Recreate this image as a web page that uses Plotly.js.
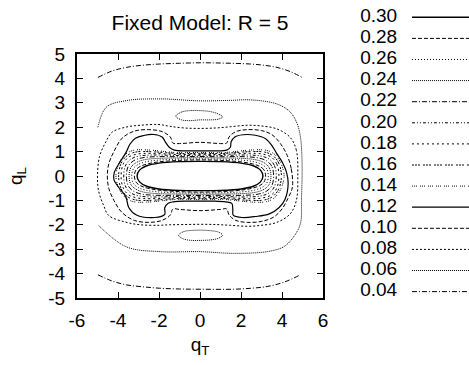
<!DOCTYPE html>
<html>
<head>
<meta charset="utf-8">
<script src="https://cdn.plot.ly/plotly-3.0.1.min.js"></script>
<style>html,body{margin:0;padding:0;background:#fff;}#chart{width:469px;height:365px;}</style>
</head>
<body>
<div id="chart"></div>
<script>
// ---- contour levels (legend order) ----
const levels = ['0.30','0.28','0.26','0.24','0.22','0.20','0.18','0.16','0.14','0.12','0.10','0.08','0.06','0.04'];
// tick labels
const xTickVals = [-6,-4,-2,0,2,4,6];
const xTickText = ['-6','-4','-2','0','2','4','6'];
const yTickVals = [-5,-4,-3,-2,-1,0,1,2,3,4,5];
const yTickText = ['-5','-4','-3','-2','-1','0','1','2','3','4','5'];

// ---- contour curves (qT, qL) ----
const c30x = [3.07,2.95,2.6,2.0,1.0,0,-1.0,-2.0,-2.6,-2.95,-3.07,-2.95,-2.6,-2.0,-1.0,0,1.0,2.0,2.6,2.95,3.07];
const c30y = [0,0.24,0.42,0.53,0.59,0.6,0.59,0.53,0.42,0.24,0,-0.24,-0.42,-0.53,-0.59,-0.6,-0.59,-0.53,-0.42,-0.24,0];

const c28x = [3.2,3.12,2.9,2.55,2.0,1.0,0,-1.0,-2.0,-2.55,-2.9,-3.12,-3.2,-3.12,-2.9,-2.55,-2.0,-1.0,0,1.0,2.0,2.55,2.9,3.12,3.2];
const c28y = [0,0.25,0.4,0.5,0.58,0.64,0.66,0.64,0.58,0.5,0.4,0.25,0,-0.25,-0.4,-0.5,-0.58,-0.64,-0.66,-0.64,-0.58,-0.5,-0.4,-0.25,0];

const c26x = [3.33,3.25,3.02,2.65,2.05,1.0,0,-1.0,-2.05,-2.65,-3.02,-3.25,-3.33,-3.25,-3.02,-2.65,-2.05,-1.0,0,1.0,2.05,2.65,3.02,3.25,3.33];
const c26y = [0,0.3,0.47,0.58,0.65,0.69,0.7,0.69,0.65,0.58,0.47,0.3,0,-0.3,-0.47,-0.58,-0.65,-0.69,-0.7,-0.69,-0.65,-0.58,-0.47,-0.3,0];

const c24x = [3.46,3.37,3.13,2.75,2.1,1.0,0,-1.0,-2.1,-2.75,-3.13,-3.37,-3.46,-3.37,-3.13,-2.75,-2.1,-1.0,0,1.0,2.1,2.75,3.13,3.37,3.46];
const c24y = [0,0.35,0.54,0.66,0.72,0.74,0.75,0.74,0.72,0.66,0.54,0.35,0,-0.35,-0.54,-0.66,-0.72,-0.74,-0.75,-0.74,-0.72,-0.66,-0.54,-0.35,0];

const c22x = [3.59,3.5,3.25,2.85,2.2,1.0,0,-1.0,-2.2,-2.85,-3.25,-3.5,-3.59,-3.5,-3.25,-2.85,-2.2,-1.0,0,1.0,2.2,2.85,3.25,3.5,3.59];
const c22y = [0,0.4,0.62,0.74,0.79,0.79,0.8,0.79,0.79,0.74,0.62,0.4,0,-0.4,-0.62,-0.74,-0.79,-0.79,-0.8,-0.79,-0.79,-0.74,-0.62,-0.4,0];

const c20x = [3.72,3.62,3.36,2.95,2.3,1.0,0,-1.0,-2.3,-2.95,-3.36,-3.62,-3.72,-3.62,-3.36,-2.95,-2.3,-1.0,0,1.0,2.3,2.95,3.36,3.62,3.72];
const c20y = [0,0.45,0.7,0.82,0.86,0.84,0.85,0.84,0.86,0.82,0.7,0.45,0,-0.45,-0.7,-0.82,-0.86,-0.84,-0.85,-0.84,-0.86,-0.82,-0.7,-0.45,0];

const c18x = [3.85,3.74,3.47,3.05,2.4,1.0,0,-1.0,-2.4,-3.05,-3.47,-3.74,-3.85,-3.74,-3.47,-3.05,-2.4,-1.0,0,1.0,2.4,3.05,3.47,3.74,3.85];
const c18y = [0,0.5,0.78,0.9,0.93,0.88,0.89,0.88,0.93,0.9,0.78,0.5,0,-0.5,-0.78,-0.9,-0.93,-0.88,-0.89,-0.88,-0.93,-0.9,-0.78,-0.5,0];

const c16x = [3.97,3.84,3.55,3.15,2.5,1.0,0,-1.0,-2.5,-3.15,-3.55,-3.84,-3.97,-3.84,-3.55,-3.15,-2.5,-1.0,0,1.0,2.5,3.15,3.55,3.84,3.97];
const c16y = [0,0.53,0.84,0.98,1.0,0.92,0.93,0.92,1.0,0.98,0.84,0.53,0,-0.53,-0.84,-0.98,-1.0,-0.92,-0.93,-0.92,-1.0,-0.98,-0.84,-0.53,0];

const c14x = [4.1,3.93,3.62,3.25,2.6,1.1,0,-1.1,-2.6,-3.25,-3.62,-3.93,-4.1,-3.93,-3.62,-3.25,-2.6,-1.1,0,1.1,2.6,3.25,3.62,3.93,4.1];
const c14y = [0,0.55,0.9,1.05,1.07,0.96,0.97,0.96,1.07,1.05,0.9,0.55,0,-0.55,-0.9,-1.05,-1.07,-0.96,-0.97,-0.96,-1.07,-1.05,-0.9,-0.55,0];

const c12x = [4.3,4.22,4.02,3.72,3.48,3.2,2.7,2.1,1.7,1.52,1.48,1.3,0.7,0,-0.7,-1.25,-1.5,-1.68,-1.85,-2.25,-2.75,-3.15,-3.42,-3.6,-3.92,-4.18,-4.2,-3.98,-3.62,-3.47,-3.1,-2.2,-1.72,-1.72,-1.55,-1.3,-0.7,0,0.7,1.25,1.55,1.6,1.62,2.05,2.7,3.38,3.85,4.15,4.3];
const c12y = [-0.3,0.15,0.55,0.95,1.28,1.53,1.67,1.69,1.6,1.4,1.18,1.06,1.03,1.03,1.03,1.06,1.18,1.38,1.6,1.7,1.66,1.55,1.3,0.98,0.55,0.15,-0.15,-0.45,-0.85,-1.3,-1.6,-1.7,-1.57,-1.3,-1.12,-1.06,-1.03,-1.03,-1.03,-1.06,-1.12,-1.38,-1.6,-1.7,-1.66,-1.55,-1.3,-0.95,-0.3];

const c10x = [4.52,4.45,4.25,3.92,3.5,3.0,2.3,1.75,1.42,1.3,1.0,0,-1.0,-1.32,-1.45,-1.85,-2.5,-3.2,-3.8,-4.2,-4.45,-4.52,-4.45,-4.2,-3.8,-3.2,-2.5,-1.85,-1.45,-1.32,-1.0,0,1.0,1.3,1.42,1.75,2.3,3.0,3.6,4.0,4.3,4.48,4.52];
const c10y = [-0.3,0.3,0.85,1.33,1.7,1.86,1.9,1.82,1.6,1.35,1.33,1.38,1.33,1.35,1.6,1.82,1.9,1.84,1.55,1.0,0.5,0,-0.5,-1.0,-1.5,-1.82,-1.9,-1.82,-1.6,-1.35,-1.37,-1.42,-1.37,-1.35,-1.6,-1.82,-1.9,-1.86,-1.68,-1.35,-0.9,-0.55,-0.3];

const c08x = [4.77,4.7,4.4,3.75,3.0,2.3,1.5,0.8,0,-0.8,-1.5,-2.0,-2.9,-3.63,-4.28,-4.6,-4.9,-5.0,-4.95,-4.7,-4.45,-3.63,-2.9,-2.0,-1.5,-0.8,0,0.8,1.5,2.3,3.0,3.75,4.4,4.7,4.77];
const c08y = [0,1.05,1.58,1.93,2.05,2.08,2.02,1.97,1.95,1.97,2.04,2.11,2.08,2.0,1.8,1.39,0.8,0,-0.6,-1.21,-1.62,-1.89,-2.0,-2.02,-2.0,-1.99,-1.98,-1.99,-2.02,-2.06,-2.02,-1.9,-1.55,-1.0,0];

const c06x = [-4.98,-4.57,-3.6,-1.96,0,1.5,2.45,3.76,4.41,4.74,4.9,4.97,4.98,4.95,4.9,4.57,4.08,3.27,1.63,0,-1.96,-3.6,-4.98];
const c06y = [2.0,2.82,3.09,3.16,3.08,3.1,3.12,2.95,2.61,2.14,1.59,0.8,0,-0.9,-1.94,-2.49,-2.9,-3.1,-3.17,-3.1,-3.1,-2.9,-2.0];
const c06ax = [-1.18,-0.9,-0.5,0,0.5,0.9,1.1,0.9,0.5,0,-0.5,-0.9,-1.18];
const c06ay = [2.45,2.62,2.68,2.68,2.64,2.54,2.42,2.33,2.3,2.3,2.27,2.3,2.45];
const c06bx = [-1.05,-0.8,-0.4,0,0.5,0.9,1.1,0.9,0.5,0,-0.4,-0.8,-1.05];
const c06by = [-2.43,-2.28,-2.23,-2.22,-2.24,-2.3,-2.43,-2.55,-2.62,-2.64,-2.64,-2.58,-2.43];

const c04ax = [-4.98,-4.3,-3.6,-2.8,-1.96,-1,0,1,2.45,3.2,3.76,4.4,4.98];
const c04ay = [4.04,4.3,4.45,4.54,4.59,4.62,4.64,4.63,4.59,4.53,4.45,4.28,4.04];
const c04bx = [-4.98,-4.3,-3.6,-2.8,-1.96,-1,0,1.63,2.5,3.27,4.1,4.9];
const c04by = [-4.05,-4.3,-4.46,-4.54,-4.6,-4.63,-4.64,-4.64,-4.6,-4.53,-4.35,-4.05];

// ---- styles (gnuplot line types) ----
const levelDash = ['solid','4px,2px','1px,2px','1px,1px','5px,2px,1px,2px','3px,2px,1px,2px,1px,2px','2px,3px','2px,1px,2px,1px,2px,3px','1px,1px,1px,1px,1px,3px','solid','4px,2px','2px,2px','1px,1px','5px,2px,1px,2px'];
const levelWidth = [1.4,1,1,1,1,1,1,1,1,1.2,1,1,1,1];

const curves = [
  [0,c30x,c30y],[1,c28x,c28y],[2,c26x,c26y],[3,c24x,c24y],[4,c22x,c22y],[5,c20x,c20y],
  [6,c18x,c18y],[7,c16x,c16y],[8,c14x,c14y],[9,c12x,c12y],[10,c10x,c10y],[11,c08x,c08y],
  [12,c06x,c06y],[12,c06ax,c06ay],[12,c06bx,c06by],[13,c04ax,c04ay],[13,c04bx,c04by]
];

const FONT = 'Liberation Sans, Arial, Helvetica, sans-serif';
const traces = [];
curves.forEach(function(c){
  traces.push({
    x: c[1], y: c[2], type: 'scatter', mode: 'lines', xaxis: 'x', yaxis: 'y',
    line: {color: '#000', width: levelWidth[c[0]], dash: levelDash[c[0]], shape: 'spline', smoothing: 1},
    showlegend: false, hoverinfo: 'skip'
  });
});
// key drawn in its own small subplot
levels.forEach(function(lv, i){
  traces.push({
    x: [0.5, 1.0], y: [i, i], type: 'scatter', mode: 'lines', xaxis: 'x2', yaxis: 'y2',
    line: {color: '#000', width: levelWidth[i], dash: levelDash[i]},
    showlegend: false, hoverinfo: 'skip'
  });
});
traces.push({
  x: levels.map(function(){return 0.37;}), y: levels.map(function(_, i){return i;}),
  text: levels, type: 'scatter', mode: 'text', textposition: 'middle left',
  textfont: {family: FONT, size: 19, color: '#000'}, xaxis: 'x2', yaxis: 'y2',
  showlegend: false, hoverinfo: 'skip', cliponaxis: false
});

const axCommon = {
  showgrid: false, zeroline: false, showline: true, linecolor: '#000', linewidth: 2,
  mirror: 'ticks', ticks: 'inside', ticklen: 6, tickwidth: 1, tickcolor: '#000',
  tickfont: {family: FONT, size: 19, color: '#000'}
};
const layout = {
  width: 469, height: 365,
  margin: {l: 77, r: 0, t: 10, b: 67, pad: 0},
  paper_bgcolor: '#fff', plot_bgcolor: '#fff',
  showlegend: false,
  font: {family: FONT, color: '#000'},
  title: {text: 'Fixed Model: R = 5', font: {family: FONT, size: 21, color: '#000'},
          x: 0.3138, xref: 'paper', xanchor: 'center', y: 0.937, yref: 'container', yanchor: 'middle'},
  xaxis: Object.assign({}, axCommon, {domain: [0, 0.6276], range: [-6, 6], tickmode: 'array',
          tickvals: xTickVals, ticktext: xTickText, ticklabelstandoff: 4,
          title: {text: 'q<sub>T</sub>', font: {family: FONT, size: 19, color: '#000'}, standoff: 8}}),
  yaxis: Object.assign({}, axCommon, {domain: [0, 0.8472], range: [-5, 5], tickmode: 'array',
          tickvals: yTickVals, ticktext: yTickText, ticklabelstandoff: 6,
          title: {text: 'q<sub>L</sub>', font: {family: FONT, size: 19, color: '#000'}, standoff: 21}}),
  xaxis2: {domain: [0.709, 1], range: [0, 1], visible: false, fixedrange: true, anchor: 'y2'},
  yaxis2: {domain: [0, 1], range: [13.303, -0.346], visible: false, fixedrange: true, anchor: 'x2'}
};
Plotly.newPlot('chart', traces, layout, {displayModeBar: false, staticPlot: true});
</script>
</body>
</html>
